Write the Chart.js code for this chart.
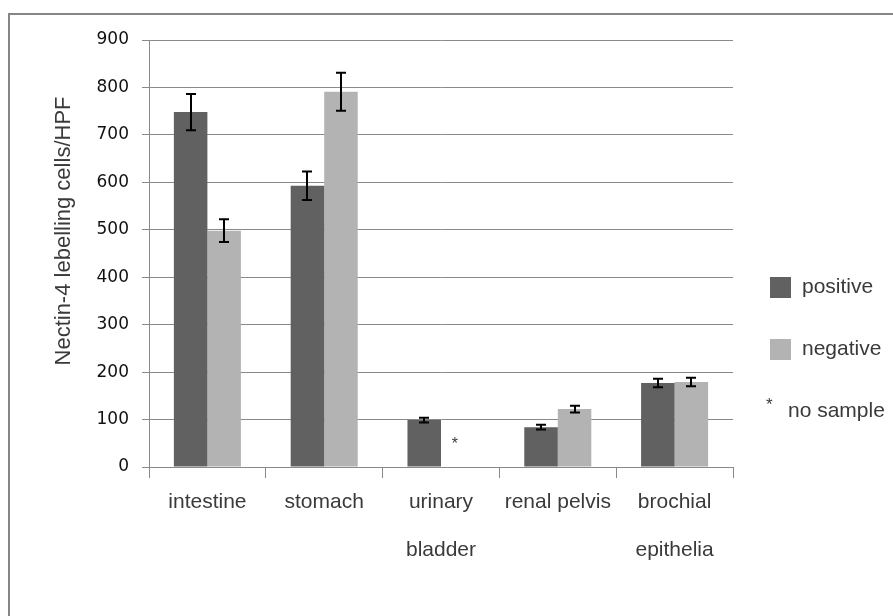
<!DOCTYPE html>
<html>
<head>
<meta charset="utf-8">
<script src="https://cdn.jsdelivr.net/npm/chart.js@4.4.0/dist/chart.umd.min.js"></script>
<style>
  html, body { margin: 0; padding: 0; background: #fff; }
  #wrap { position: relative; width: 893px; height: 616px; overflow: hidden; }
</style>
</head>
<body>
<div id="wrap"><canvas id="c" width="893" height="616"></canvas></div>
<script>
// ---- data ----
const categories = [['intestine'], ['stomach'], ['urinary', 'bladder'], ['renal pelvis'], ['brochial', 'epithelia']];
const positiveValues = [748, 593, 99, 84, 177];
const negativeValues = [498, 791, null, 122, 179];
const positiveErrors = [38, 30, 5, 5, 9];
const negativeErrors = [24, 40, null, 7, 9];
const seriesNames = ['positive', 'negative'];
const noSampleLabel = 'no sample';
const yTitle = 'Nectin-4 lebelling cells/HPF';
const yMin = 0, yMax = 900, yStep = 100;

const errorSets = [positiveErrors, negativeErrors];
const TEXT = '#3a3a3a';
const SANS = '"Liberation Sans", Arial, sans-serif';

const decorPlugin = {
  id: 'decor',
  beforeDraw(chart) {
    const ctx = chart.ctx;
    ctx.save();
    ctx.fillStyle = '#ffffff';
    ctx.fillRect(0, 0, chart.width, chart.height);
    ctx.strokeStyle = '#868686';
    ctx.lineWidth = 2;
    ctx.strokeRect(9, 14, chart.width + 20, chart.height + 20);
    ctx.restore();
  },
  afterDatasetsDraw(chart) {
    const ctx = chart.ctx;
    const y = chart.scales.y;
    ctx.save();
    ctx.strokeStyle = '#000000';
    ctx.lineWidth = 2;
    chart.data.datasets.forEach((ds, di) => {
      const meta = chart.getDatasetMeta(di);
      const errs = errorSets[di];
      meta.data.forEach((bar, i) => {
        const v = ds.data[i];
        const e = errs[i];
        if (v == null || e == null) return;
        const x = Math.round(bar.x);
        const yt = y.getPixelForValue(v + e);
        const yb = y.getPixelForValue(v - e);
        const cw = 5;
        ctx.beginPath();
        ctx.moveTo(x, yt); ctx.lineTo(x, yb);
        ctx.moveTo(x - cw, yt); ctx.lineTo(x + cw, yt);
        ctx.moveTo(x - cw, yb); ctx.lineTo(x + cw, yb);
        ctx.stroke();
      });
    });
    // no-sample asterisk
    const metaPos = chart.getDatasetMeta(0);
    negativeValues.forEach((v, i) => {
      if (v == null) {
        const p = metaPos.data[i];
        const ax = p.x + p.width;
        ctx.fillStyle = TEXT;
        ctx.font = '16px ' + SANS;
        ctx.textAlign = 'center';
        ctx.textBaseline = 'middle';
        ctx.fillText('*', ax - 3, y.getPixelForValue(0) - 22);
      }
    });
    ctx.restore();
  },
  afterDraw(chart) {
    const ctx = chart.ctx;
    const area = chart.chartArea;
    ctx.save();
    // y title
    ctx.fillStyle = TEXT;
    ctx.font = '22px ' + SANS;
    ctx.textAlign = 'center';
    ctx.textBaseline = 'middle';
    ctx.translate(64, 231);
    ctx.rotate(-Math.PI / 2);
    ctx.fillText(yTitle, 0, 0);
    ctx.restore();
    // legend
    ctx.save();
    const lx = area.right + 37;
    const colors = chart.data.datasets.map(d => d.backgroundColor);
    const rowYs = [287, 349, 411];
    ctx.font = '21px ' + SANS;
    ctx.textBaseline = 'middle';
    ctx.textAlign = 'left';
    seriesNames.forEach((n, i) => {
      ctx.fillStyle = colors[i];
      ctx.fillRect(lx, rowYs[i] - 10, 21, 21);
      ctx.fillStyle = TEXT;
      ctx.fillText(n, lx + 32, rowYs[i]);
    });
    ctx.fillStyle = TEXT;
    ctx.font = '17px ' + SANS;
    ctx.fillText('*', lx - 4, rowYs[2] - 6);
    ctx.font = '21px ' + SANS;
    ctx.fillText(noSampleLabel, lx + 18, rowYs[2]);
    ctx.restore();
  }
};

new Chart(document.getElementById('c'), {
  type: 'bar',
  data: {
    labels: categories,
    datasets: [
      { label: seriesNames[0], data: positiveValues, backgroundColor: '#616161', borderWidth: 0 },
      { label: seriesNames[1], data: negativeValues, backgroundColor: '#b3b3b3', borderWidth: 0 }
    ]
  },
  options: {
    responsive: false,
    animation: false,
    devicePixelRatio: 1,
    layout: { padding: { left: 0, top: 40, right: 160, bottom: 0 } },
    plugins: { legend: { display: false }, tooltip: { enabled: false } },
    datasets: { bar: { categoryPercentage: 0.574, barPercentage: 1.0 } },
    scales: {
      x: {
        offset: true,
        grid: { display: true, drawOnChartArea: false, drawTicks: true, tickLength: 11, color: '#898989', lineWidth: 1, offset: true },
        border: { display: true, color: '#898989', width: 1 },
        ticks: {
          color: TEXT,
          padding: 0,
          maxRotation: 0,
          autoSkip: false,
          font: { family: SANS, size: 21, lineHeight: 48 / 21 }
        },
        afterFit(scale) { scale.height = 149; scale.paddingLeft = 0; scale.paddingRight = 0; }
      },
      y: {
        min: yMin, max: yMax,
        grid: { color: '#898989', lineWidth: 1, tickLength: 7, drawTicks: true },
        border: { display: true, color: '#898989', width: 1 },
        ticks: {
          stepSize: yStep,
          color: '#111111',
          padding: 13,
          font: { family: '"DejaVu Sans", Verdana, sans-serif', size: 17 }
        },
        afterFit(scale) { scale.width = 149; scale.paddingTop = 0; scale.paddingBottom = 0; }
      }
    }
  },
  plugins: [decorPlugin]
});
</script>
</body>
</html>
